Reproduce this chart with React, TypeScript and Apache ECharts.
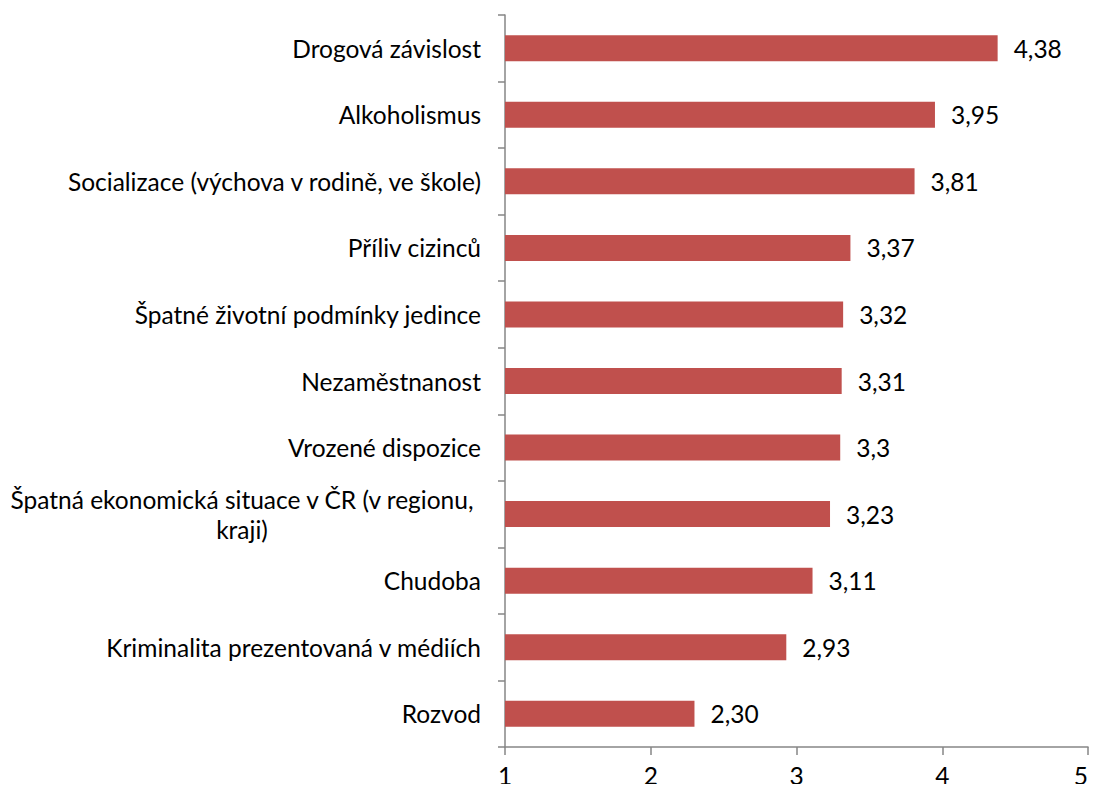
import React, { useEffect, useRef } from "react";
import * as echarts from "echarts";

const categories = [
  "Drogová závislost",
  "Alkoholismus",
  "Socializace (výchova v rodině, ve škole)",
  "Příliv cizinců",
  "Špatné životní podmínky jedince",
  "Nezaměstnanost",
  "Vrozené dispozice",
  "Špatná ekonomická situace v ČR (v regionu,\nkraji)",
  "Chudoba",
  "Kriminalita prezentovaná v médiích",
  "Rozvod",
];
const values = [4.38, 3.95, 3.81, 3.37, 3.32, 3.31, 3.3, 3.23, 3.11, 2.93, 2.3];
const valueLabels = ["4,38", "3,95", "3,81", "3,37", "3,32", "3,31", "3,3", "3,23", "3,11", "2,93", "2,30"];
const xTicks = [1, 2, 3, 4, 5];

const FONT = "Lato, 'Open Sans', sans-serif";
const FS = 24.5;

export default function App() {
  const ref = useRef<HTMLDivElement>(null);
  useEffect(() => {
    if (!ref.current) return;
    const chart = echarts.init(ref.current, null, { renderer: "svg" });
    chart.setOption({
      animation: false,
      backgroundColor: "#ffffff",
      grid: { left: 504, right: 9, top: 15, bottom: 45, containLabel: false },
      xAxis: {
        type: "value",
        min: xTicks[0],
        max: xTicks[xTicks.length - 1],
        interval: 1,
        splitLine: { show: false },
        axisLine: { show: true, lineStyle: { color: "#868686", width: 1.5 } },
        axisTick: { show: true, length: 8, lineStyle: { color: "#868686", width: 1.5 } },
        axisLabel: {
          color: "#000",
          fontSize: FS,
          fontFamily: FONT,
          margin: 16,
          alignMaxLabel: "right",
        },
      },
      yAxis: {
        type: "category",
        inverse: true,
        data: categories,
        axisLine: { show: true, lineStyle: { color: "#868686", width: 1.5 } },
        axisTick: { show: true, length: 7, lineStyle: { color: "#868686", width: 1.5 } },
        axisLabel: {
          color: "#000",
          fontSize: FS,
          fontFamily: FONT,
          margin: 24,
          lineHeight: 30,
          formatter: (v: string) => {
            if (v.indexOf("\n") >= 0) {
              return v
                .split("\n")
                .map((s) => "{c|" + s + "}")
                .join("\n");
            }
            return v;
          },
          rich: {
            c: {
              width: 478,
              align: "center",
              fontSize: FS,
              fontFamily: FONT,
              color: "#000",
              lineHeight: 30,
            },
          },
        },
      },
      series: [
        {
          type: "bar",
          data: values,
          barWidth: 26,
          itemStyle: { color: "#C0504D" },
          label: {
            show: true,
            position: "right",
            distance: 16,
            color: "#000",
            fontSize: FS,
            fontFamily: FONT,
            formatter: (p: any) => valueLabels[p.dataIndex],
          },
        },
      ],
    });
    return () => chart.dispose();
  }, []);
  return <div ref={ref} style={{ width: 1097, height: 792, margin: -8 }} />;
}
